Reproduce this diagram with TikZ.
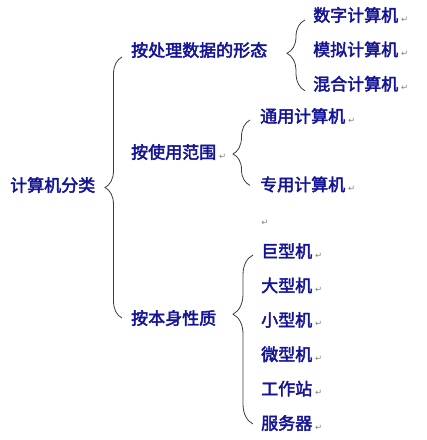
\documentclass[tikz,border=0pt]{standalone}
\usepackage{fontspec}
\newfontfamily\cjk[FakeBold=2.6]{Noto Sans CJK SC}
\newfontfamily\symb{DejaVu Sans}
\usetikzlibrary{positioning,calc}
\usetikzlibrary{decorations.pathreplacing}
\definecolor{textblue}{RGB}{20,20,150}
\definecolor{bracegray}{RGB}{60,60,60}
\definecolor{markgray}{RGB}{130,130,130}
\newcommand{\retmark}{\,\raisebox{-0.5pt}{\fontsize{8.5}{9}\symb\color{markgray}↵}}

\begin{document}
\begin{tikzpicture}[x=1pt,y=-1pt,
         way/.style = {inner sep=0pt, anchor=west, text=textblue,
         font=\fontsize{17}{20}\cjk, text height=13pt, text depth=4pt},
         leaf/.style = {way},
         grouping/.style = {bracegray, line width=0.8pt, decorate,
         decoration={brace,amplitude=17pt}}
]
   \useasboundingbox (0,0) rectangle (427,440);

   \node[way] (root) at (10,187) {计算机分类};

   % the three ways of dividing
   \node[way] (shape)  at (131,52)  {按处理数据的形态};
   \node[way] (usage)  at (131,154) {按使用范围\retmark};
   \node[way] (nature) at (131,320) {按本身性质};

   % by form of data
   \node[leaf] (digital) at (313,17) {数字计算机\retmark};
   \node[leaf,below=17pt of digital] (analog) {模拟计算机\retmark};
   \node[leaf,below=17pt of analog]  (hybrid) {混合计算机\retmark};

   % by range of use
   \node[leaf] (general) at (260,118) {通用计算机\retmark};
   \node[leaf,below=51pt of general] (special) {专用计算机\retmark};
   \node[inner sep=0pt] (blank) at (264,223) {\retmark};

   % by size
   \node[leaf] (giant) at (261,253) {巨型机\retmark};
   \node[leaf,below=17pt of giant]  (large)  {大型机\retmark};
   \node[leaf,below=17pt of large]  (small)  {小型机\retmark};
   \node[leaf,below=17pt of small]  (micro)  {微型机\retmark};
   \node[leaf,below=17pt of micro]  (station){工作站\retmark};
   \node[leaf,below=17pt of station](server) {服务器\retmark};

   % braces
   \draw[grouping,decoration={aspect=0.5}]
   ($(nature.west)+(-9,-2)$) -- ($(shape.west)+(-9,5)$);
   \draw[grouping,decoration={aspect=0.53,amplitude=18pt}]
   ($(hybrid.west)+(-8,5)$) -- ($(digital.west)+(-8,3)$);
   \draw[grouping,decoration={aspect=0.48}]
   ($(special.west)+(-10,-1)$) -- ($(general.west)+(-10,2)$);
   \draw[grouping,decoration={aspect=0.65,amplitude=20pt}]
   ($(server.west)+(-8,-1)$) -- ($(giant.west)+(-8,2)$);
\end{tikzpicture}
\end{document}
